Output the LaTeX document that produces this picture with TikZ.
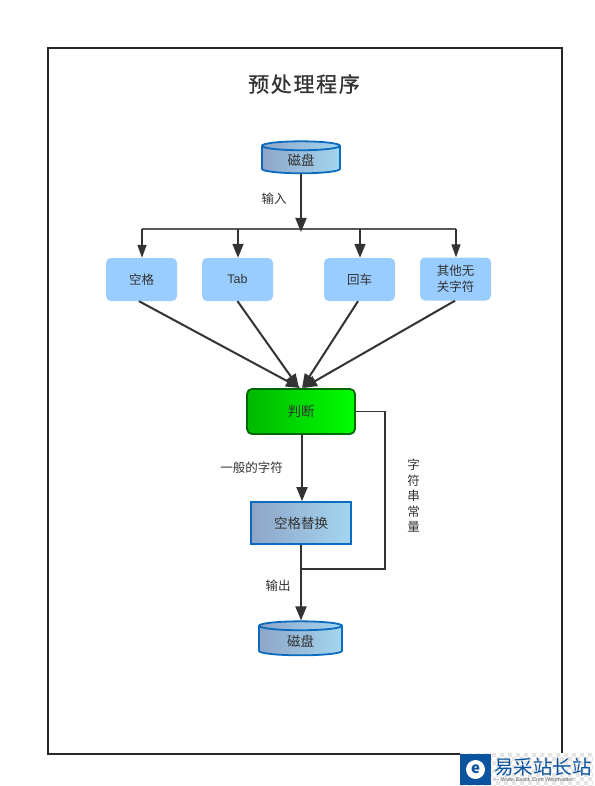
\documentclass[tikz,border=0pt]{standalone}
\usepackage{fontspec}
\setmainfont{Noto Sans CJK SC}
\newfontfamily\latinfont{Liberation Sans}
\newfontfamily\titlefont[LetterSpace=8,FakeBold=0.8]{Noto Sans CJK SC}
\usetikzlibrary{arrows.meta,shapes.geometric}
\definecolor{Ink}{HTML}{333333}
\definecolor{KeyBlue}{HTML}{99CCFF}
\definecolor{EdgeBlue}{HTML}{0A6BBF}
\definecolor{ShadeL}{HTML}{8FA5C8}
\definecolor{ShadeR}{HTML}{A3D6EE}
\definecolor{LogoBlue}{HTML}{0B539F}
\tikzset{
  keybox/.style={fill=KeyBlue,rounded corners=5pt,minimum width=71pt,minimum height=43pt,inner sep=0pt,text=Ink,font=\fontsize{12.5}{16}\selectfont,align=center},
  diskbox/.style={shape=cylinder,shape border rotate=90,aspect=0.33,draw=EdgeBlue,line width=1.8pt,left color=ShadeL,right color=ShadeR,inner sep=0pt,text=Ink,font=\fontsize{13.5}{16}\selectfont},
  flowarrow/.style={draw=Ink,line width=2pt,-{Triangle[length=14pt,width=11pt]}},
  smallarrow/.style={draw=Ink,line width=1.6pt,-{Triangle[length=13pt,width=9pt]}},
  tag/.style={text=Ink,inner sep=0pt,font=\fontsize{12.5}{15.5}\selectfont,align=center}
}
\begin{document}
\begin{tikzpicture}[x=1pt,y=-1pt]
\useasboundingbox (0,0) rectangle (594,786);
\fill[white] (0,0) rectangle (594,786);
\draw[black!85,line width=1.8pt] (48,48) rectangle (562,754);
\node[text=Ink,font=\fontsize{21}{24}\selectfont\titlefont] (titleText) at (304,84) {预处理程序};

\node[diskbox,minimum width=78pt,minimum height=32pt] (diskIn) at (301,160) {磁盘};
\node[keybox] (keySpace) at (141.5,279.5) {空格};
\node[keybox] (keyTab) at (237.5,279.5) {\latinfont Tab};
\node[keybox] (keyEnter) at (359.5,279.5) {回车};
\node[keybox] (keyOther) at (455.5,279) {其他无\\关字符};
\node[draw=black!60!green,line width=1.8pt,left color=green!72!black,right color=green,rounded corners=5pt,minimum width=108pt,minimum height=45pt,inner sep=0pt,text=Ink,font=\fontsize{13.5}{16}\selectfont] (judgeBox) at (301,411.5) {判断};
\node[draw=EdgeBlue,line width=1.8pt,left color=ShadeL,right color=ShadeR,minimum width=100pt,minimum height=42pt,inner sep=0pt,text=Ink,font=\fontsize{13.5}{16}\selectfont] (replaceBox) at (301,523) {空格替换};
\node[diskbox,minimum width=83pt,minimum height=34pt] (diskOut) at (300.5,641) {磁盘};

\node[tag] (tagIn) at (274,199) {输入};
\node[tag] (tagPlain) at (251.5,468) {一般的字符};
\node[tag] (tagOut) at (278,586) {输出};
\node[tag] (tagString) at (413.5,496) {字\\符\\串\\常\\量};

\coordinate (busLeft) at (142,229);
\coordinate (busTab) at (238,229);
\coordinate (busMid) at (301,232);
\coordinate (busEnter) at (360,229);
\coordinate (busRight) at (456,229);
\coordinate (sideTop) at (385,411.5);
\coordinate (sideLow) at (385,569);
\coordinate (sideJoin) at (301,569);
\coordinate (hitA) at (300,388);
\coordinate (hitB) at (299,388);
\coordinate (hitC) at (302,388);
\coordinate (hitD) at (303,388);

\draw[black!65,line width=1.6pt] (busLeft) -- (busRight);
\draw[flowarrow] (diskIn.south) -- (busMid);
\draw[smallarrow] (busLeft) -- (keySpace.north-|busLeft);
\draw[flowarrow,line width=1.7pt] (busTab) -- (keyTab.north-|busTab);
\draw[flowarrow,line width=1.7pt] (busEnter) -- (keyEnter.north-|busEnter);
\draw[smallarrow] (busRight) -- (keyOther.north-|busRight);
\draw[flowarrow] ([xshift=-2.5pt]keySpace.south) -- (hitA);
\draw[flowarrow] (keyTab.south) -- (hitB);
\draw[flowarrow] ([xshift=-1.5pt]keyEnter.south) -- (hitC);
\draw[flowarrow] ([xshift=-0.5pt]keyOther.south) -- (hitD);
\draw[flowarrow] ([xshift=1pt]judgeBox.south) -- ([xshift=1pt]replaceBox.north);
\draw[flowarrow] (replaceBox.south) -- (diskOut.north-|replaceBox.south);
\draw[draw=Ink,line width=1.8pt] (judgeBox.east) -- (sideTop) -- (sideLow) -- (sideJoin);

\fill[white] (460,753) rectangle (594,786);
\begin{scope}
\clip (460,753) rectangle (593,786);
\foreach \i in {0,...,33} {\foreach \j in {0,...,8} {\pgfmathparse{int(mod(\i+\j,2))}\ifnum\pgfmathresult=0 \fill[black!10] (460+4*\i,753+4*\j) rectangle ++(4,4);\fi}}
\end{scope}
\node[fill=LogoBlue,minimum size=31pt,inner sep=0pt] (logoMark) at (475.5,769.5) {};
\node[circle,fill=white,minimum size=19pt,inner sep=0pt] (logoDisc) at (logoMark) {};
\node[text=LogoBlue,inner sep=0pt,font=\fontsize{15}{15}\selectfont\bfseries] (logoLetter) at (logoMark) {e};
\node[anchor=west,text=LogoBlue,inner sep=0pt,font=\fontsize{19.5}{22}\selectfont] (logoName) at (494,767) {易采站长站};
\node[anchor=west,text=black!60,inner sep=0pt,font=\latinfont\fontsize{5.5}{6}\selectfont] (logoSite) at (494,780) {--- Www.Easck.Com Webmaster};
\end{tikzpicture}
\end{document}
